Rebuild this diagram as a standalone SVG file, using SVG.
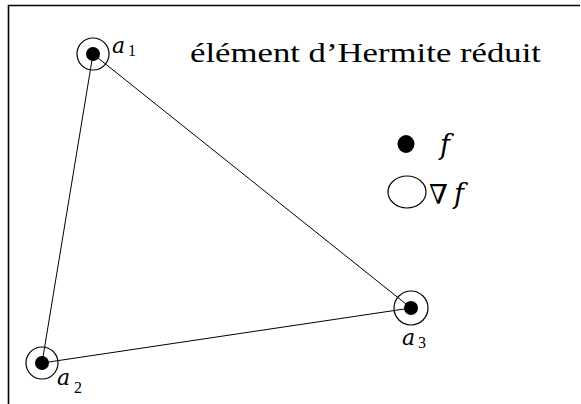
<svg xmlns="http://www.w3.org/2000/svg" width="581" height="404" viewBox="0 0 581 404">
<style>
.t{font-family:"Liberation Serif","DejaVu Serif",serif;fill:#000}
.i{font-family:"DejaVu Serif","Liberation Serif",serif;font-style:italic;fill:#000}
.ring{fill:none;stroke:#000;stroke-width:1.2}
.dot{fill:#000}
.edge{stroke:#000;stroke-width:1;fill:none}
</style>
<rect width="581" height="404" fill="#fff"/>
<path d="M8.5 404V5.5H580" fill="none" stroke="#000" stroke-width="1.6"/>
<g id="connectors">
<line class="edge" x1="93" y1="54" x2="42" y2="363"/>
<line class="edge" x1="93" y1="54" x2="411" y2="308"/>
<line class="edge" x1="42" y1="363" x2="411" y2="308"/>
</g>
<g id="a1">
<circle class="ring" cx="93" cy="54" r="16"/>
<circle class="dot" cx="93" cy="54" r="7"/>
<text class="i" x="112" y="53" font-size="22">a</text><text class="t" x="128" y="56" font-size="16">1</text>
</g>
<g id="a2">
<circle class="ring" cx="42" cy="363" r="16"/>
<circle class="dot" cx="42" cy="363" r="7"/>
<text class="i" x="57" y="385" font-size="22">a</text><text class="t" x="74" y="393" font-size="16">2</text>
</g>
<g id="a3">
<circle class="ring" cx="411" cy="308" r="17"/>
<circle class="dot" cx="411" cy="308" r="7"/>
<text class="i" x="402" y="345" font-size="22">a</text><text class="t" x="418" y="348" font-size="16">3</text>
</g>
<g id="title">
<text class="t" x="190" y="62" font-size="28" textLength="351" lengthAdjust="spacingAndGlyphs">élément d’Hermite réduit</text>
</g>
<g id="legend">
<ellipse class="dot" cx="406" cy="144" rx="8.5" ry="9"/>
<text class="i" x="440" y="154" font-size="27">f</text>
<ellipse class="ring" cx="407" cy="192" rx="19" ry="16"/>
<text class="t" x="429" y="204" font-size="27">∇</text>
<text class="i" x="454" y="203" font-size="27">f</text>
</g>
</svg>
